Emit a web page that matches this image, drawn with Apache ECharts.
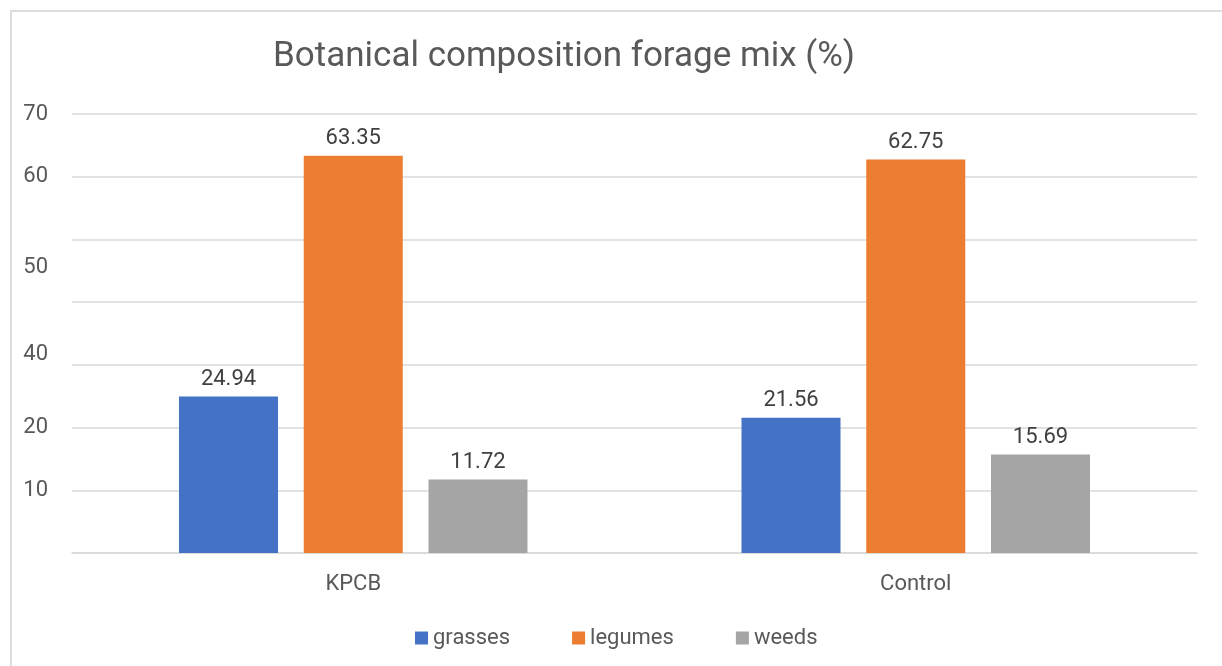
<!DOCTYPE html>
<html>
<head>
<meta charset="utf-8">
<title>Botanical composition forage mix</title>
<script src="https://cdn.jsdelivr.net/npm/echarts@6/dist/echarts.min.js"></script>
<style>
  html, body { margin: 0; padding: 0; background: #fff; overflow: hidden; }
  #frame { position: absolute; left: 10px; top: 10px; width: 1400px; height: 900px; border: 2px solid #dcdcdc; box-sizing: border-box; }
  #chart { position: absolute; left: 0; top: 0; width: 1222px; height: 666px; }
</style>
</head>
<body>
<div id="frame"></div>
<div id="chart"></div>
<script>
// data
const categories = ['KPCB', 'Control']
const grasses = [24.94, 21.56]
const legumes = [63.35, 62.75]
const weeds = [11.72, 15.69]

// the y labels in the original sit at odd heights, keep them as they are
const yTickLabels = ['70', '60', '50', '40', '20', '10']
const yTickValues = [70, 60, 45.6, 31.6, 20, 10]

const fontFamily = 'Roboto, "Liberation Sans", sans-serif'
const textGrey = '#595959'
const labelSize = 22

const chart = echarts.init(document.getElementById('chart'))

function barSeries(name, values, color) {
  return {
    name: name,
    type: 'bar',
    data: values,
    barWidth: 99,
    barGap: '26%',
    itemStyle: { color: color },
    label: {
      show: true,
      position: 'top',
      distance: 6,
      color: '#404040',
      fontSize: labelSize,
      fontFamily: fontFamily
    }
  }
}

chart.setOption({
  animation: false,
  title: {
    text: 'Botanical composition forage mix (%)',
    left: 268,
    top: 35,
    textStyle: {
      color: textGrey,
      fontSize: 35,
      fontWeight: 'normal',
      fontFamily: fontFamily
    }
  },
  legend: {
    data: ['grasses', 'legumes', 'weeds'],
    left: 410,
    top: 622,
    icon: 'rect',
    itemWidth: 13,
    itemHeight: 13,
    itemGap: 62,
    textStyle: { color: textGrey, fontSize: labelSize, fontFamily: fontFamily }
  },
  grid: {
    left: 72,
    right: 25,
    top: 114,
    bottom: 113
  },
  xAxis: {
    type: 'category',
    data: categories,
    axisLine: { lineStyle: { color: '#d9d9d9', width: 1.5 } },
    axisTick: { show: false },
    axisLabel: {
      color: textGrey,
      fontSize: labelSize,
      fontFamily: fontFamily,
      margin: 20
    }
  },
  yAxis: {
    type: 'value',
    min: 0,
    max: 70,
    interval: 10,
    axisLine: { show: false },
    axisTick: { show: false },
    axisLabel: { show: false },
    splitLine: { lineStyle: { color: '#d9d9d9', width: 1.5 } }
  },
  series: [
    barSeries('grasses', grasses, '#4472C4'),
    barSeries('legumes', legumes, '#ED7D31'),
    barSeries('weeds', weeds, '#A5A5A5'),
    {
      name: 'yLabels',
      type: 'custom',
      silent: true,
      clip: false,
      data: yTickValues.map(v => [0, v]),
      renderItem: (params, api) => {
        const pt = api.coord([0, api.value(1)])
        return {
          type: 'text',
          x: params.coordSys.x - 24,
          y: pt[1],
          style: {
            text: yTickLabels[params.dataIndex],
            align: 'right',
            verticalAlign: 'middle',
            fill: textGrey,
            fontSize: labelSize,
            fontFamily: fontFamily
          }
        }
      }
    }
  ]
})
</script>
</body>
</html>
